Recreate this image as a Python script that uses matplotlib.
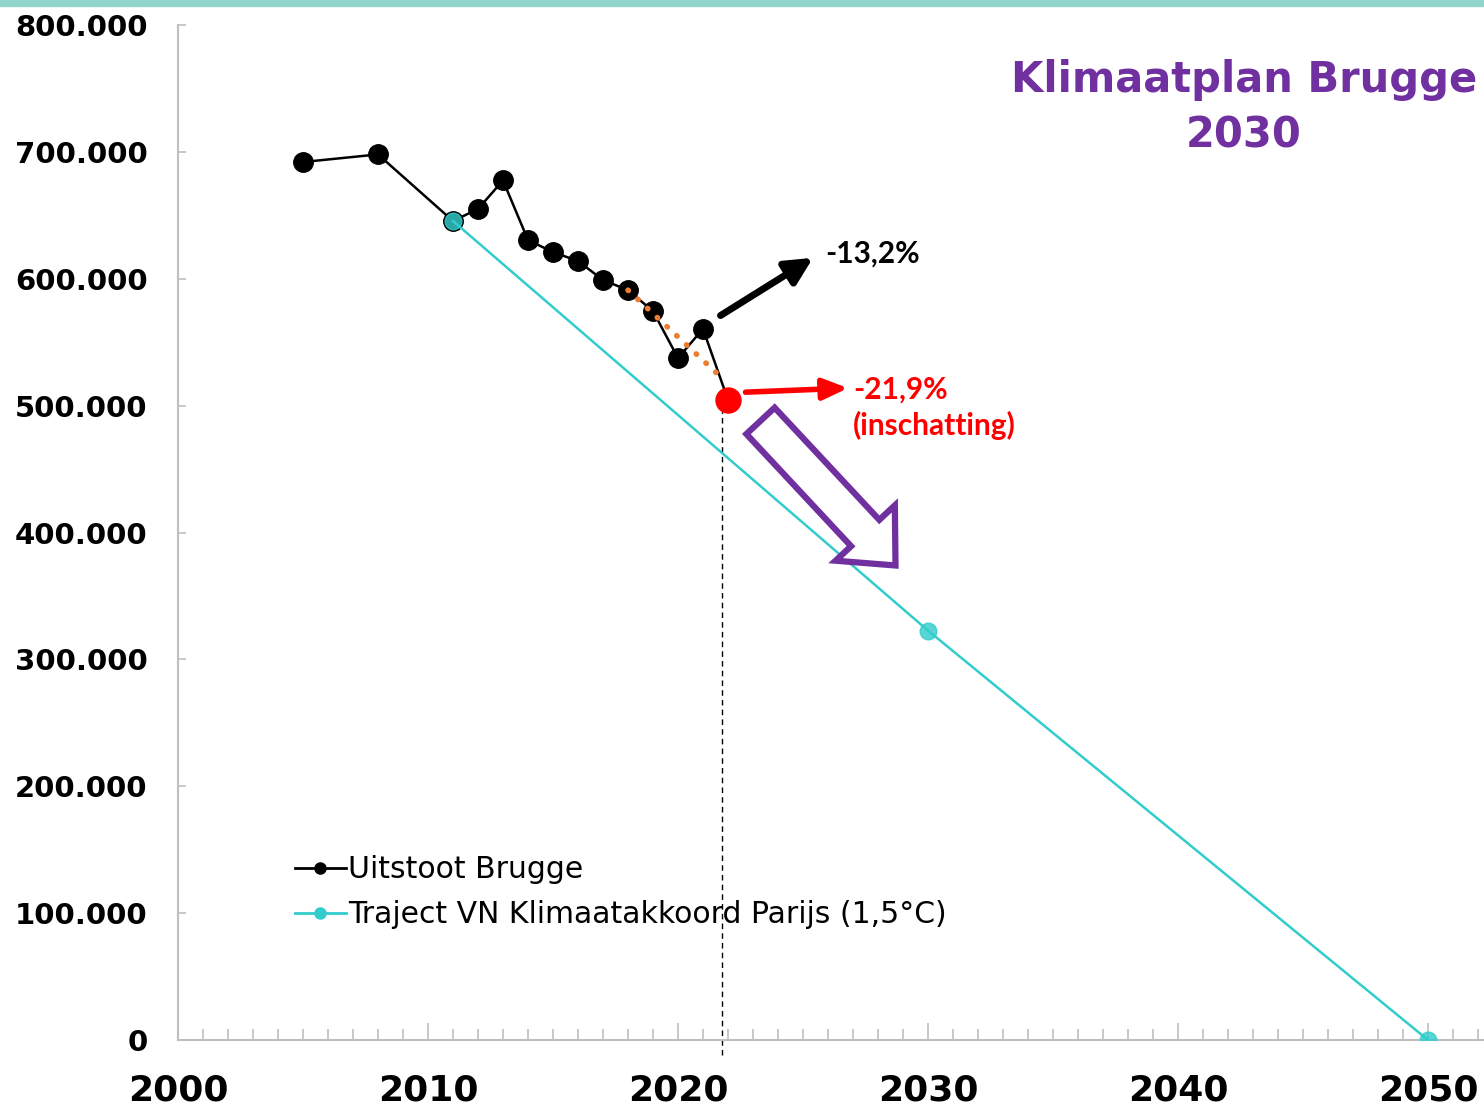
import matplotlib
matplotlib.use("Agg")
import matplotlib.pyplot as plt
from matplotlib.lines import Line2D
from matplotlib.patches import Rectangle, ArrowStyle


# ---------------- DATA ----------------
years_brugge = [2005, 2008, 2011, 2012, 2013, 2014, 2015, 2016, 2017, 2018, 2019, 2020, 2021, 2022]
uitstoot = [692000, 698000, 645500, 655000, 677500, 630500, 621000, 614000, 599000, 591000, 574500, 537500, 560500, 504500]

years_traject = [2011, 2030, 2050]
traject = [645500, 322700, 0]

# schatting 2022 (rood punt) en trendlijn (oranje stippen)
year_estimate = 2022
value_estimate = 504500
trend_years = [2018, 2021.8]
trend_values = [591000, 521000]

x_ticks = [2000, 2010, 2020, 2030, 2040, 2050]
y_ticks = [0, 100000, 200000, 300000, 400000, 500000, 600000, 700000, 800000]

CYAN = "#33cccc"
PURPLE = "#7030a0"
GRID_GRAY = "#bfbfbf"


def fmt_nl(v):
    return f"{int(v):,}".replace(",", ".")


# ---------------- FIGURE ----------------
fig = plt.figure(figsize=(14.84, 11.06), dpi=100)
ax = fig.add_axes([178 / 1484, 66 / 1106, 1306 / 1484, 1015 / 1106])

# teal strip on top
fig.patches.append(Rectangle((0, 1 - 6 / 1106), 1, 6 / 1106, transform=fig.transFigure,
                             color="#92d5cb", zorder=0))

ax.plot(years_brugge, uitstoot, color="black", lw=1.8, marker="o", ms=14,
        zorder=3, label="Uitstoot Brugge")
ax.plot(years_traject, traject, color=CYAN, lw=1.8, marker="o", ms=12,
        mfc=(0.2, 0.8, 0.8, 0.82), mec=(0.2, 0.8, 0.8, 0.82), zorder=4,
        label="Traject VN Klimaatakkoord Parijs (1,5°C)")
ax.plot(trend_years, trend_values, color="#ed7d31", lw=4,
        linestyle=(0, (0.1, 2.3)), dash_capstyle="round", zorder=5)
ax.plot([year_estimate], [value_estimate], "o", color="red", ms=18, zorder=6)

# dashed vertical line
ax.plot([2021.76, 2021.76], [-12000, value_estimate], color="black", lw=1,
        linestyle=(0, (4, 3)), clip_on=False, zorder=2)

# ---------------- AXES ----------------
ax.set_xlim(2000, 2052.24)
ax.set_ylim(0, 800000)
ax.set_xticks(x_ticks)
ax.set_xticks(range(2000, 2053), minor=True)
ax.set_yticks(y_ticks)
ax.set_yticklabels([fmt_nl(v) for v in y_ticks])

for s in ["top", "right"]:
    ax.spines[s].set_visible(False)
for s in ["left", "bottom"]:
    ax.spines[s].set_color(GRID_GRAY)
    ax.spines[s].set_linewidth(1.5)

ax.tick_params(axis="x", which="major", direction="in", length=12, width=1.2,
               color=GRID_GRAY, pad=24, labelsize=26)
ax.tick_params(axis="x", which="minor", direction="in", length=8, width=1.2,
               color=GRID_GRAY)
ax.tick_params(axis="y", direction="in", length=6, width=1.2, color=GRID_GRAY,
               pad=22, labelsize=21)
for lbl in ax.get_xticklabels() + ax.get_yticklabels():
    lbl.set_fontweight("bold")
    lbl.set_clip_on(False)

# ---------------- TITLE ----------------
fig.text(1244 / 1484, 1 - 108 / 1106, "Klimaatplan Brugge\n2030", ha="center", va="center",
         fontsize=30, fontweight="bold", color=PURPLE, linespacing=1.4)

# ---------------- ANNOTATIONS ----------------
ax.annotate("", xy=(2025.4, 616500), xytext=(2021.7, 571000),
            arrowprops=dict(arrowstyle="-|>,head_length=0.8,head_width=0.4",
                            lw=5, color="black", shrinkA=0, shrinkB=0, mutation_scale=20))
ax.text(2025.9, 619500, "-13,2%", fontsize=21.5, fontweight="bold", family="Lato",
        color="black", va="center", ha="left")

ax.annotate("", xy=(2026.8, 513800), xytext=(2022.7, 510600),
            arrowprops=dict(arrowstyle="-|>,head_length=0.75,head_width=0.32",
                            lw=4, color="red", shrinkA=0, shrinkB=0, mutation_scale=20))
ax.text(2027.0, 513000, "-21,9%", fontsize=21.5, fontweight="bold", family="Lato",
        color="red", va="center", ha="left")
ax.text(2027.0, 484000, "(inschatting)", fontsize=21.5, fontweight="bold", family="Lato",
        color="red", va="center", ha="left")

# hollow purple arrow
ax.annotate("", xy=(2028.7, 374000), xytext=(2023.3, 488000),
            arrowprops=dict(arrowstyle=ArrowStyle.Simple(head_length=2.3, head_width=4.2, tail_width=2.0),
                            fc="white", ec=PURPLE, lw=4.5, shrinkA=0, shrinkB=0,
                            mutation_scale=13.9, joinstyle="miter"), zorder=7)

# ---------------- LEGEND ----------------
handles = [
    Line2D([], [], color="black", lw=2, marker="o", ms=8),
    Line2D([], [], color=CYAN, lw=2, marker="o", ms=8),
]
ax.legend(handles, ["Uitstoot Brugge", "Traject VN Klimaatakkoord Parijs (1,5°C)"],
          loc="upper left", bbox_to_anchor=((295 - 178) / 1306, (1040 - 855) / 1015),
          frameon=False, fontsize=21.5, handlelength=1.7, handletextpad=0.08,
          borderpad=0, borderaxespad=0, labelspacing=0.55)

plt.savefig("out.png", dpi=100)
